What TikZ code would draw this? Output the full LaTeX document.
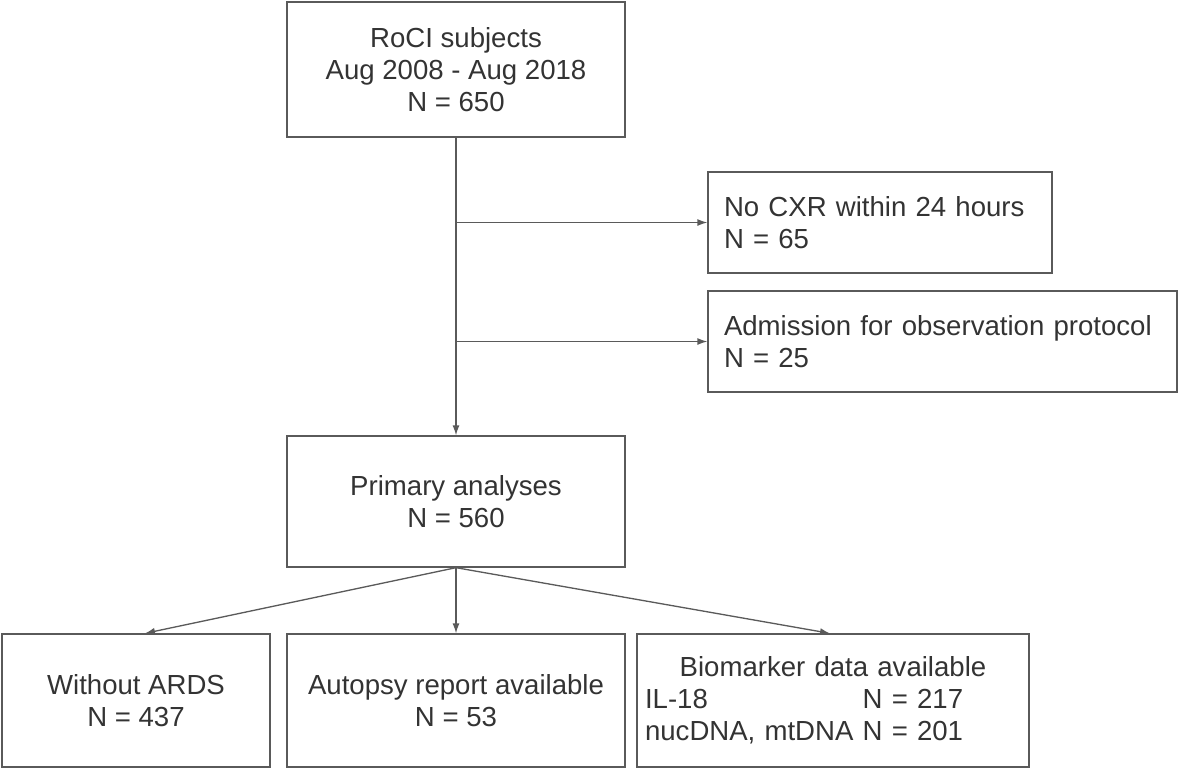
\documentclass[tikz,border=0pt]{standalone}
\usepackage{fontspec}
\setmainfont{Liberation Sans}
\usepackage{tikz}
\usetikzlibrary{arrows.meta,positioning}
\definecolor{boxline}{HTML}{5A5A5A}
\definecolor{boxtext}{HTML}{333333}

\begin{document}
\begin{tikzpicture}[x=0.02cm,y=-0.02cm]
	\tikzstyle{process} = [rectangle, draw=boxline, line width=0.75pt, text=boxtext,
	font=\fontsize{15.7}{18.2}\selectfont, inner sep=0pt]
	\tikzstyle{centerbox} = [process, align=center]
	\tikzstyle{leftbox} = [process, align=left, text width=0.02cm*312]
	\tikzstyle{arrow} = [draw=boxline, line width=0.75pt, -{Latex[length=2mm,width=1.4mm]}]
	\useasboundingbox (0,0) rectangle (1181,769);
	\node (subjects) [centerbox, minimum width=0.02cm*338, minimum height=0.02cm*135]
		at (456,69.5) {RoCI subjects\\Aug 2008 - Aug 2018\\N = 650};
	\node (noCxr) [leftbox, minimum width=0.02cm*344, minimum height=0.02cm*101]
		at (880,222.5) {No CXR within 24 hours\\N = 65};
	\node (observation) [leftbox, text width=0.02cm*437, minimum width=0.02cm*469,
		minimum height=0.02cm*101] at (942.5,341.5) {Admission for observation protocol\\N = 25};
	\node (primary) [centerbox, minimum width=0.02cm*338, minimum height=0.02cm*131]
		at (456,501.5) {Primary analyses\\N = 560};
	\node (withoutArds) [centerbox, minimum width=0.02cm*268, minimum height=0.02cm*133]
		at (136,700.5) {Without ARDS\\N = 437};
	\node (autopsy) [centerbox, minimum width=0.02cm*338, minimum height=0.02cm*133]
		at (456,700.5) {Autopsy report available\\N = 53};
	\node (biomarker) [leftbox, text width=7.52cm, minimum width=0.02cm*392,
		minimum height=0.02cm*133] at (833,700.5)
		{\makebox[7.52cm]{Biomarker data available}\\
		\makebox[0pt][l]{IL-18}\phantom{nucDNA, mtDNA} N = 217\\nucDNA, mtDNA N = 201};
	\draw [arrow] (subjects) -- (primary);
	\draw [arrow] (subjects.south |- noCxr.west) -- (noCxr.west);
	\draw [arrow] (subjects.south |- observation.west) -- (observation.west);
	\draw [arrow] (primary.south) -- ([xshift=0.02cm*9]withoutArds.north);
	\draw [arrow] (primary) -- (autopsy);
	\draw [arrow] (primary.south) -- ([xshift=-0.02cm*3]biomarker.north);
\end{tikzpicture}
\end{document}
